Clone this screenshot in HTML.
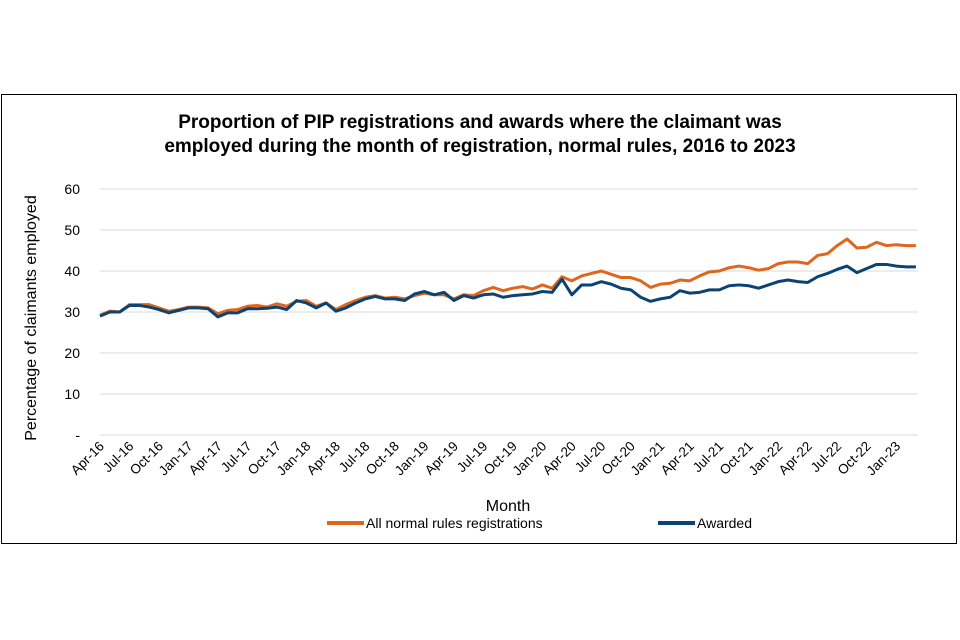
<!DOCTYPE html>
<html><head><meta charset="utf-8"><style>
body{margin:0;background:#fff;font-family:"Liberation Sans",Arial,sans-serif}
#frame{position:absolute;left:1px;top:94px;width:956px;height:450px;border:1px solid #000;box-sizing:border-box}
</style></head><body>
<div id="frame"></div>
<svg id="chart" width="960" height="640" style="position:absolute;left:0;top:0">
<text x="480" y="128" text-anchor="middle" font-size="19" font-weight="bold">Proportion of PIP registrations and awards where the claimant was</text>
<text x="480" y="152" text-anchor="middle" font-size="19" font-weight="bold">employed during the month of registration, normal rules, 2016 to 2023</text>
<text transform="translate(36,318) rotate(-90)" text-anchor="middle" font-size="16">Percentage of claimants employed</text>
<text x="508" y="511" text-anchor="middle" font-size="16">Month</text>
<g>
<line x1="327" y1="523" x2="364" y2="523" stroke="#e0661d" stroke-width="4"/>
<text x="366" y="528" font-size="14">All normal rules registrations</text>
<line x1="658" y1="523" x2="695" y2="523" stroke="#0b4474" stroke-width="4"/>
<text x="697" y="528" font-size="14">Awarded</text>
</g>
<g id="grid"></g><g id="yt"></g><g id="xt"></g><g id="lines"></g>
</svg>
<script>
const yTicks=[0,10,20,30,40,50,60];
const yTickLabels=["-","10","20","30","40","50","60"];
const startYear=2016,startMonth=3;
const monthNames=["Jan","Feb","Mar","Apr","May","Jun","Jul","Aug","Sep","Oct","Nov","Dec"];
const registrations=[29.2,30.2,30.0,31.8,31.8,31.8,31.0,30.2,30.6,31.2,31.2,31.0,29.6,30.4,30.6,31.4,31.6,31.2,32.0,31.4,32.6,32.8,31.4,32.2,30.6,31.8,32.8,33.6,34.0,33.4,33.6,33.2,34.0,34.6,34.2,34.2,33.2,34.2,34.0,35.2,36.0,35.2,35.8,36.2,35.6,36.6,35.8,38.6,37.6,38.8,39.4,40.0,39.2,38.4,38.4,37.6,36.0,36.8,37.0,37.8,37.6,38.8,39.8,40.0,40.8,41.2,40.8,40.2,40.6,41.8,42.2,42.2,41.8,43.8,44.2,46.2,47.8,45.6,45.8,47.0,46.2,46.4,46.2,46.2];
const awarded=[29.0,30.0,30.0,31.6,31.6,31.2,30.6,29.8,30.4,31.0,31.0,30.8,28.8,29.8,29.8,30.8,30.8,30.9,31.2,30.6,32.8,32.2,31.0,32.2,30.2,31.0,32.2,33.2,33.8,33.2,33.2,32.8,34.4,35.0,34.2,34.8,32.8,34.0,33.4,34.2,34.4,33.6,34.0,34.2,34.4,35.0,34.8,38.0,34.2,36.6,36.6,37.4,36.8,35.8,35.4,33.6,32.6,33.2,33.6,35.2,34.6,34.8,35.4,35.4,36.4,36.6,36.4,35.8,36.6,37.4,37.8,37.4,37.2,38.6,39.4,40.4,41.2,39.6,40.6,41.6,41.6,41.2,41.0,41.0];
const NS="http://www.w3.org/2000/svg";
const x0=100,dx=9.83,yb=435,k=4.1;
const X=i=>x0+i*dx, Y=v=>yb-v*k;
function mk(t,a,p){const e=document.createElementNS(NS,t);for(const n in a)e.setAttribute(n,a[n]);document.getElementById(p).appendChild(e);return e;}
yTicks.forEach((v,i)=>{
 const g=mk('line',{x1:100,x2:918,y1:Y(v),y2:Y(v),stroke:'#d9d9d9','stroke-width':1},'grid');
 
 
 const t=mk('text',{x:80,y:Y(v)+5,'text-anchor':'end','font-size':14},'yt');
 t.textContent=yTickLabels[i];
 
 
});
for(let i=0;i<registrations.length;i+=3){
 const m=(startMonth+i)%12,yr=startYear+Math.floor((startMonth+i)/12);
 const t=mk('text',{transform:`translate(${X(i)+5},${447}) rotate(-45)`,'text-anchor':'end','font-size':13.5},'xt');
 t.textContent=monthNames[m]+'-'+String(yr).slice(2);
 
 
}
[[registrations,'#e0661d','registrations-line'],[awarded,'#0b4474','awarded-line']].forEach(([d,c,n])=>{
 const p=mk('polyline',{points:d.map((v,i)=>X(i)+','+Y(v)).join(' '),fill:'none',stroke:c,'stroke-width':3,'stroke-linejoin':'round'},'lines');
 
 
});
</script>
</body></html>
